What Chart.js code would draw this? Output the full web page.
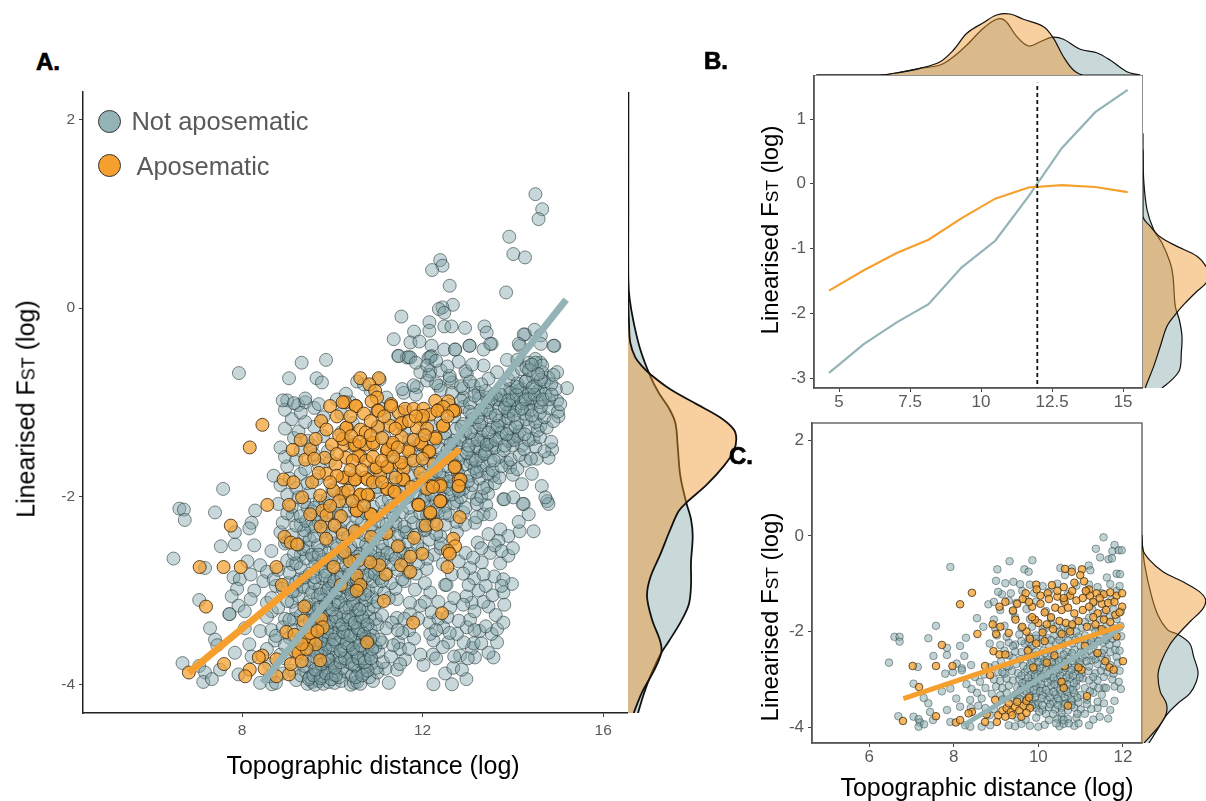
<!DOCTYPE html>
<html>
<head>
<meta charset="utf-8">
<title>Linearised FST vs topographic distance</title>
<script src="https://cdn.jsdelivr.net/npm/chart.js"></script>
<style>
  body { margin: 0; background: #fff; width: 1206px; height: 801px; overflow: hidden; position: relative; font-family: "Liberation Sans", sans-serif; }
  canvas { position: absolute; }
  .txt { position: absolute; white-space: nowrap; transform: translate(-50%, -50%); }
  .ytitle { transform: translate(-50%, -50%) rotate(-90deg); }
  .dot { position: absolute; width: 21px; height: 21px; border-radius: 50%; border: 1px solid #333; }
</style>
</head>
<body>
<script>
// panel A points
const greyA = [
[14.5,1.21],[14.65,1.05],[14.57,.945],[13.92,.758],[14.01,.574],[14.27,.538],[13.85,.166],[12.39,.51],[12.44,.45],[12.21,.404],[12.6,.237],[12.67,.035],[12.44,.007],[12.36,-.01],[12.48,-.05],[11.53,-.09],[12.15,-.15],[12.15,-.24],[12.48,-.195],[12.64,-.195],[12.94,-.21],[13.37,-.195],[13.42,-.26],[11.81,-.25],[11.36,-.33],[11.73,-.365],[11.93,-.355],[12.2,-.4],[12.48,-.44],[12.72,-.44],[13.04,-.4],[13.53,-.38],[13.35,-.44],[14.27,-.28],[14.48,-.23],[14.62,-.29],[14.16,-.4],[14.62,-.38],[14.92,-.4],[11.46,-.507],[11.65,-.525],[11.73,-.525],[12.13,-.53],[12.2,-.51],
[7.93,-.69],[9.32,-.58],[9.86,-.55],[9.04,-.745],[9.65,-.745],[9.77,-.79],[9.0,-.98],[9.24,-1.03],[9.4,-1.0],[15.2,-.85],[14.98,-.985],[15.01,-1.15],[14.9,-.4],[14.61,-.58],[14.98,-.68],[14.79,-.74],[14.61,-.86],[14.35,-.58],[14.5,-.54],[14.24,-.28],[14.13,-.38],[13.87,-.55],[13.65,-.68],[13.46,-.75],[13.35,-.61],[13.5,-.38],[13.04,-.4],[12.72,-.44],[12.17,-.52],[11.47,-.51],[11.69,-.52],[12.17,-.67],[11.87,-.84],[11.58,-.9],[12.35,-.825],[12.65,-.79],[12.98,-.7],[13.13,-.825],[12.91,-.95],[13.24,-.9],[13.43,-.95],[13.72,-.97],[13.94,-.86],[14.02,-.97],[14.24,-.985],[14.46,-.985],[14.2,-.86],[14.31,-1.07],[14.61,-1.25],[14.87,-1.5],[14.79,-1.59],[14.53,-1.6],[14.28,-1.62],[14.46,-1.39],[14.2,-1.46],[13.98,-1.37],[13.83,-1.2],[13.94,-1.09],[13.65,-1.29],[13.53,-1.46],[13.35,-1.41],[13.28,-1.52],[13.06,-1.64],[13.28,-1.73],[13.57,-1.78],[13.87,-1.64],[13.94,-1.69],[14.2,-1.87],[14.42,-1.76],[14.64,-1.89],[14.76,-2.05],[14.24,-2.08],[13.79,-2.03],[13.43,-1.89],[13.2,-2.03],[12.76,-2.05],[13.35,-2.19],
[6.61,-2.13],[6.71,-2.14],[6.73,-2.25],[7.4,-2.17],[7.58,-1.92],[8.29,-2.15],[8.21,-2.28],[8.16,-2.34],[7.84,-2.38],[7.84,-2.51],[7.53,-2.53],[8.27,-2.52],[6.48,-2.66],[7.18,-2.76],[8.12,-2.69],[8.4,-2.73],[7.81,-2.86],[7.95,-2.88],[8.19,-2.83],[8.47,-2.9],[7.89,-2.98],[8.27,-3.0],[7.05,-3.1],[7.77,-3.06],[8.19,-3.09],[8.55,-3.13],[7.72,-3.25],[7.72,-3.25],[7.92,-3.16],[8.06,-3.22],[8.66,-3.22],[7.29,-3.4],[7.4,-3.52],[8.06,-3.4],[8.4,-3.43],[8.73,-3.53],[7.84,-3.66],[7.45,-3.58],[8.16,-3.57],[6.68,-3.77],[7.05,-3.8],[7.18,-3.87],[7.14,-3.97],[7.33,-3.94],[7.51,-3.84],[7.92,-3.89],[8.4,-3.98],[8.66,-3.995],[8.21,-3.7],[8.55,-3.62],[8.62,-3.91],
[12.24,-3.995],[12.65,-3.995],[12.97,-3.94],[12.5,-3.88],[12.68,-3.82],[12.87,-3.84],[12.02,-3.79],[12.23,-3.68],[11.61,-3.73],[11.43,-3.84],[12.83,-3.69],[13.16,-3.71],[13.57,-3.71],[13.46,-3.66],[13.09,-3.61],[13.13,-3.56],[13.65,-3.55],[12.91,-3.55],[12.57,-3.55],[12.24,-3.53],[11.81,-3.51],[11.46,-3.55],[12.17,-3.46],[12.76,-3.46],[13.53,-3.46],[13.26,-3.43],[12.98,-3.39],[12.46,-3.39],[12.15,-3.34],[13.65,-3.41],[13.79,-3.34],[13.05,-3.31],[12.8,-3.32],[12.61,-3.18],[12.2,-3.23],[11.95,-3.16],[11.72,-3.13],[11.43,-3.09],[11.43,-3.29],[11.72,-3.25],[11.32,-3.34],[13.46,-3.17],[13.62,-3.26],[13.81,-3.15],[13.09,-3.13],[12.97,-3.06],[13.24,-3.0],[13.79,-3.02],[13.98,-2.93],[13.59,-2.85],[13.79,-2.88],[13.14,-2.87],[13.02,-2.94],[12.5,-2.94],[12.53,-2.94],[12.17,-3.02],[11.83,-2.99],[13.35,-2.83],[12.65,-2.83],[13.31,-2.7],[13.05,-2.76],[12.8,-2.69],[13.72,-2.71],[13.9,-2.63],[14.0,-2.55],[13.72,-2.35],[13.9,-2.42],[13.68,-2.47],[13.5,-2.6],[13.22,-2.49],[13.46,-2.4],[14.46,-2.37],[14.15,-2.37],[14.13,-2.27],[14.35,-2.19],[14.22,-2.08],[14.79,-2.08],[14.72,-2.01],[13.81,-2.03],[14.01,-2.01],[13.41,-2.09],[13.5,-2.19],[13.16,-2.28],[12.94,-2.3],[12.76,-2.38],[12.39,-2.42],[12.06,-2.35],[11.61,-2.38],[11.39,-2.31],[11.58,-2.6],[12.09,-2.77],[11.65,-2.72],
[11.5,-3.62],[11.7,-3.42],[11.9,-3.3],[12.05,-3.12],[12.35,-3.12],[12.35,-3.3],[12.55,-3.28],[12.7,-3.08],[12.9,-3.15],[13.15,-3.22],[13.35,-3.12],[13.55,-3.05],[13.4,-2.95],[12.9,-2.82],[12.45,-2.72],[12.25,-2.62],[12.4,-2.55],[12.6,-2.6],[12.95,-2.6],[13.12,-2.65],[13.3,-2.55],[13.6,-2.52],[13.75,-2.58],[12.05,-2.92],[11.6,-2.9],[11.85,-2.82],[12.3,-3.72],[12.7,-3.7],[13.0,-3.72],[12.45,-3.6],[11.95,-3.68],[11.7,-3.62],[11.55,-3.45],[13.3,-3.56],[13.4,-3.38],[12.6,-3.45],[12.3,-3.42],[13.75,-2.95],[13.15,-3.42],
[8.95,-3.3],[9.05,-3.5],[9.15,-3.3],[9.3,-3.62],[9.4,-3.74],[9.1,-3.12],[9.2,-3.0],[9.02,-2.92],[9.28,-2.88],[9.48,-2.97],[9.12,-2.72],[9.3,-2.62],[9.45,-2.54],[9.6,-2.65],[9.4,-2.42],[9.52,-2.32],[9.7,-2.28],[9.3,-2.3],[9.12,-2.2],[9.45,-2.12],[9.72,-2.05],[8.95,-2.5],[8.75,-2.95],[8.55,-2.8],[8.65,-3.42],[8.95,-3.72],[9.1,-3.85],[9.52,-3.62],[9.6,-3.3],[9.48,-3.18],
[8.75,-3.98],[9.2,-3.95],[9.45,-3.99],[9.55,-3.97],[9.62,-4.0],[9.71,-3.96],[9.8,-3.99],[9.92,-3.97],[10.05,-3.98],[10.2,-3.96],[10.41,-4.0],[10.48,-3.98],[10.55,-3.97],[10.62,-3.99],[10.9,-3.96],[11.25,-3.98],
[8.9,-3.88],[9.3,-3.9],[9.42,-3.86],[9.5,-3.92],[9.66,-3.87],[9.78,-3.91],[9.9,-3.85],[10.02,-3.89],[10.15,-3.92],[10.3,-3.86],[10.44,-3.9],[10.58,-3.84],[10.7,-3.88],[10.82,-3.92],[11.0,-3.87],[11.18,-3.83],
[8.6,-3.78],[9.38,-3.8],[9.55,-3.76],[9.7,-3.82],[9.84,-3.77],[10.0,-3.8],[10.1,-3.74],[10.22,-3.82],[10.36,-3.76],[10.5,-3.8],[10.61,-3.75],[10.75,-3.81],[10.88,-3.77],[10.98,-3.82],[11.12,-3.76],[11.5,-3.78],
[8.85,-3.68],[9.6,-3.7],[9.75,-3.66],[9.9,-3.72],[10.02,-3.67],[10.16,-3.71],[10.3,-3.65],[10.42,-3.7],[10.55,-3.66],[10.7,-3.72],[10.83,-3.68],[11.02,-3.65],[11.3,-3.7],
[8.95,-3.58],[9.2,-3.61],[9.5,-3.56],[9.68,-3.62],[9.82,-3.57],[9.95,-3.6],[10.1,-3.55],[10.25,-3.62],[10.38,-3.58],[10.52,-3.55],[10.68,-3.61],[10.8,-3.57],[10.95,-3.6],[11.1,-3.55],[11.35,-3.58],
[8.75,-3.48],[9.3,-3.5],[9.45,-3.46],[9.65,-3.52],[9.8,-3.47],[9.92,-3.51],[10.08,-3.45],[10.2,-3.5],[10.34,-3.47],[10.5,-3.52],[10.62,-3.46],[10.75,-3.5],[10.9,-3.48],[11.05,-3.52],
[8.9,-3.39],[9.15,-3.42],[9.35,-3.37],[9.55,-3.41],[9.72,-3.36],[9.88,-3.4],[10.0,-3.44],[10.14,-3.37],[10.28,-3.41],[10.42,-3.36],[10.58,-3.42],[10.72,-3.38],[10.85,-3.41],[11.0,-3.36],[11.2,-3.4],[11.45,-3.42],
[8.55,-3.28],[9.05,-3.31],[9.3,-3.26],[9.5,-3.32],[9.65,-3.27],[9.8,-3.3],[9.95,-3.25],[10.1,-3.33],[10.25,-3.28],[10.4,-3.31],[10.55,-3.26],[10.7,-3.32],[10.82,-3.28],[10.96,-3.3],[11.1,-3.26],[11.6,-3.3],
[8.8,-3.18],[9.2,-3.21],[9.42,-3.16],[9.6,-3.22],[9.75,-3.17],[9.9,-3.2],[10.05,-3.15],[10.2,-3.23],[10.38,-3.18],[10.52,-3.21],[10.66,-3.16],[10.8,-3.2],[10.92,-3.17],
[8.65,-3.08],[9.0,-3.11],[9.25,-3.06],[9.48,-3.12],[9.68,-3.07],[9.82,-3.1],[9.98,-3.05],[10.12,-3.13],[10.3,-3.08],[10.45,-3.11],[10.6,-3.06],[10.75,-3.1],[10.88,-3.07],[11.0,-3.12],[11.25,-3.08],
[8.9,-2.98],[9.12,-3.01],[9.35,-2.96],[9.55,-3.02],[9.72,-2.97],[9.88,-3.0],[10.02,-2.95],[10.18,-3.03],[10.35,-2.98],[10.5,-3.01],[10.65,-2.96],[10.8,-3.0],[10.98,-2.97],[11.15,-3.02],[11.4,-2.98],
[8.7,-2.88],[9.2,-2.91],[9.4,-2.86],[9.6,-2.92],[9.78,-2.87],[9.95,-2.9],[10.1,-2.85],[10.28,-2.93],[10.42,-2.88],[10.58,-2.91],[10.72,-2.86],[10.9,-2.9],[11.05,-2.87],[11.3,-2.92],[11.55,-2.88],
[8.8,-2.78],[9.05,-2.81],[9.3,-2.76],[9.5,-2.82],[9.68,-2.77],[9.85,-2.8],[10.0,-2.75],[10.2,-2.83],[10.35,-2.78],[10.5,-2.81],[10.68,-2.76],[10.85,-2.8],[11.02,-2.77],[11.2,-2.82],[11.45,-2.78],[11.7,-2.81],
[9.0,-2.68],[9.2,-2.71],[9.42,-2.66],[9.62,-2.72],[9.8,-2.67],[9.96,-2.7],[10.15,-2.65],[10.3,-2.73],[10.48,-2.68],[10.65,-2.71],[10.8,-2.66],[10.98,-2.7],[11.15,-2.67],[11.35,-2.72],[11.6,-2.68],[11.9,-2.71],[12.1,-2.66],
[8.65,-2.58],[9.15,-2.61],[9.35,-2.56],[9.55,-2.62],[9.75,-2.57],[9.92,-2.6],[10.1,-2.55],[10.28,-2.63],[10.45,-2.58],[10.62,-2.61],[10.78,-2.56],[10.95,-2.6],[11.12,-2.57],[11.3,-2.62],[11.5,-2.58],[11.75,-2.61],[12.0,-2.56],
[9.0,-2.48],[9.25,-2.51],[9.5,-2.46],[9.68,-2.52],[9.88,-2.47],[10.05,-2.5],[10.22,-2.45],[10.4,-2.53],[10.58,-2.48],[10.75,-2.51],[10.92,-2.46],[11.1,-2.5],[11.28,-2.47],[11.48,-2.52],[11.68,-2.48],[11.88,-2.51],[12.15,-2.46],[12.4,-2.5],
[8.85,-2.38],[9.1,-2.41],[9.38,-2.36],[9.6,-2.42],[9.8,-2.37],[10.0,-2.4],[10.18,-2.35],[10.35,-2.43],[10.55,-2.38],[10.72,-2.41],[10.9,-2.36],[11.08,-2.4],[11.25,-2.37],[11.45,-2.42],[11.65,-2.38],[11.85,-2.41],[12.05,-2.36],[12.3,-2.4],
[8.9,-2.28],[9.2,-2.31],[9.42,-2.26],[9.62,-2.32],[9.85,-2.27],[10.05,-2.3],[10.25,-2.25],[10.45,-2.33],[10.65,-2.28],[10.85,-2.31],[11.02,-2.26],[11.2,-2.3],[11.4,-2.27],[11.6,-2.32],[11.8,-2.28],[12.0,-2.31],[12.25,-2.26],[12.5,-2.3],[12.75,-2.27],
[9.0,-2.18],[9.3,-2.21],[9.55,-2.16],[9.75,-2.22],[9.95,-2.17],[10.15,-2.2],[10.35,-2.15],[10.55,-2.23],[10.75,-2.18],[10.95,-2.21],[11.15,-2.16],[11.35,-2.2],[11.55,-2.17],[11.75,-2.22],[11.95,-2.18],[12.15,-2.21],[12.35,-2.16],[12.6,-2.2],[12.9,-2.17],[13.2,-2.22],
[8.8,-2.08],[9.1,-2.11],[9.38,-2.06],[9.6,-2.12],[9.85,-2.07],[10.1,-2.1],[10.3,-2.05],[10.5,-2.13],[10.7,-2.08],[10.9,-2.11],[11.1,-2.06],[11.3,-2.1],[11.5,-2.07],[11.7,-2.12],[11.9,-2.08],[12.1,-2.11],[12.3,-2.06],[12.5,-2.1],[12.7,-2.07],[12.95,-2.12],[13.2,-2.08],
[9.0,-1.98],[9.25,-2.01],[9.5,-1.96],[9.9,-2.02],[10.2,-1.97],[10.6,-2.0],[10.95,-1.95],[11.25,-2.03],[11.45,-1.98],[11.65,-2.01],[11.85,-1.96],[12.05,-2.0],[12.25,-1.97],[12.45,-2.02],[12.65,-1.98],[12.85,-2.01],[13.05,-1.96],[13.3,-2.0],[13.45,-1.97],
[8.85,-1.88],[9.2,-1.91],[9.45,-1.86],[10.0,-1.92],[10.4,-1.87],[11.0,-1.9],[11.35,-1.85],[11.6,-1.93],[11.85,-1.88],[12.05,-1.91],[12.3,-1.86],[12.5,-1.9],[12.7,-1.87],[12.9,-1.92],[13.1,-1.88],[13.35,-1.91],[13.6,-1.86],
[8.7,-1.78],[9.05,-1.81],[9.3,-1.76],[9.65,-1.82],[10.5,-1.77],[10.9,-1.8],[11.3,-1.75],[11.55,-1.83],[11.8,-1.78],[12.0,-1.81],[12.2,-1.76],[12.45,-1.8],[12.65,-1.77],[12.85,-1.82],[13.05,-1.78],[13.25,-1.81],[13.45,-1.76],[13.7,-1.8],[14.0,-1.77],
[9.0,-1.68],[9.4,-1.71],[9.7,-1.66],[11.05,-1.72],[11.6,-1.67],[11.9,-1.7],[12.1,-1.65],[12.3,-1.73],[12.55,-1.68],[12.75,-1.71],[12.95,-1.66],[13.15,-1.7],[13.35,-1.67],[13.55,-1.72],[13.75,-1.68],[14.1,-1.71],
[8.95,-1.58],[9.2,-1.61],[9.6,-1.56],[9.95,-1.62],[11.3,-1.57],[11.75,-1.6],[12.0,-1.55],[12.25,-1.63],[12.45,-1.58],[12.65,-1.61],[12.85,-1.56],[13.1,-1.6],[13.3,-1.57],[13.5,-1.62],[13.7,-1.58],[13.95,-1.61],[14.15,-1.56],[14.4,-1.6],
[8.85,-1.48],[9.3,-1.51],[9.55,-1.46],[9.9,-1.52],[10.6,-1.47],[11.4,-1.5],[11.9,-1.45],[12.15,-1.53],[12.35,-1.48],[12.55,-1.51],[12.78,-1.46],[13.0,-1.5],[13.2,-1.47],[13.4,-1.52],[13.6,-1.48],[13.8,-1.51],[14.0,-1.46],[14.25,-1.5],[14.5,-1.47],[14.7,-1.52],
[9.15,-1.38],[9.45,-1.41],[9.8,-1.36],[10.4,-1.42],[11.15,-1.37],[11.7,-1.4],[12.0,-1.35],[12.25,-1.43],[12.5,-1.38],[12.7,-1.41],[12.9,-1.36],[13.1,-1.4],[13.3,-1.37],[13.5,-1.42],[13.7,-1.38],[13.9,-1.41],[14.1,-1.36],[14.35,-1.4],[14.6,-1.37],[14.85,-1.42],
[8.95,-1.28],[9.25,-1.31],[9.6,-1.26],[10.2,-1.32],[11.0,-1.27],[11.6,-1.3],[12.2,-1.25],[12.5,-1.33],[12.75,-1.28],[12.95,-1.31],[13.15,-1.26],[13.35,-1.3],[13.55,-1.27],[13.75,-1.32],[13.95,-1.28],[14.15,-1.31],[14.35,-1.26],[14.55,-1.3],[14.75,-1.27],
[9.1,-1.18],[9.4,-1.21],[9.8,-1.16],[10.45,-1.22],[11.25,-1.17],[12.4,-1.2],[12.7,-1.15],[12.9,-1.23],[13.1,-1.18],[13.3,-1.21],[13.5,-1.16],[13.7,-1.2],[13.9,-1.17],[14.1,-1.22],[14.3,-1.18],[14.5,-1.21],[14.7,-1.16],[14.9,-1.2],
[8.95,-1.08],[9.3,-1.11],[9.6,-1.06],[10.2,-1.12],[11.1,-1.07],[11.6,-1.1],[12.9,-1.05],[13.1,-1.13],[13.3,-1.08],[13.5,-1.11],[13.7,-1.06],[13.9,-1.1],[14.05,-1.07],[14.25,-1.12],[14.4,-1.08],[14.6,-1.11],[14.8,-1.06],[15.0,-1.1],
[8.9,-.98],[9.15,-1.01],[9.4,-.96],[9.7,-1.02],[10.1,-.97],[10.4,-1.0],[11.2,-.95],[12.6,-1.03],[12.85,-.98],[13.05,-1.01],[13.25,-.96],[13.45,-1.0],[13.65,-.97],[13.85,-1.02],[14.0,-.98],[14.2,-1.01],[14.4,-.96],[14.6,-1.0],[14.8,-.97],[15.05,-1.02],
[10.3,-.91],[10.85,-.88],[11.55,-.86],[11.85,-.92],[12.4,-.87],[12.65,-.9],[12.9,-.85],[13.15,-.93],[13.4,-.88],[13.6,-.91],[13.8,-.86],[13.95,-.9],[14.15,-.87],[14.35,-.92],[14.55,-.88],[14.72,-.91],[14.95,-.86],
[10.55,-.78],[10.7,-.81],[11.05,-.76],[11.8,-.82],[12.1,-.77],[12.3,-.8],[12.6,-.75],[12.85,-.83],[13.05,-.78],[13.3,-.81],[13.9,-.76],[14.1,-.8],[14.3,-.77],[14.5,-.82],[14.7,-.78],[14.85,-.81],
[11.95,-.68],[12.15,-.71],[12.4,-.66],[12.6,-.72],[12.95,-.67],[14.0,-.7],[14.2,-.65],[14.45,-.73],[14.65,-.68],[14.9,-.71],
[11.85,-.58],[12.1,-.61],[12.3,-.56],[12.55,-.62],[12.8,-.57],[13.1,-.6],[14.1,-.55],[14.3,-.63],[14.5,-.58],[14.65,-.61],
// the darkest clumps, lower middle and upper right
[9.48,-3.94],[9.58,-3.9],[9.74,-3.93],[9.86,-3.88],[9.98,-3.94],[10.08,-3.9],[10.52,-3.92],[10.66,-3.9],[10.78,-3.85],[9.62,-3.84],[9.76,-3.78],[9.92,-3.74],[10.06,-3.82],[10.18,-3.76],[10.28,-3.72],[10.44,-3.78],[10.58,-3.72],[10.72,-3.76],[10.86,-3.72],[9.66,-3.66],[9.84,-3.62],[10.0,-3.58],[10.18,-3.64],[10.32,-3.56],[10.46,-3.62],[10.62,-3.58],[10.76,-3.54],[10.88,-3.62],[9.58,-3.5],[9.74,-3.54],[9.88,-3.44],[10.04,-3.52],[10.24,-3.44],[10.4,-3.48],[10.56,-3.4],[10.7,-3.46],[10.84,-3.52],[9.6,-3.36],[9.78,-3.28],[9.92,-3.34],[10.08,-3.28],[10.22,-3.36],[10.36,-3.28],[10.5,-3.34],[10.66,-3.28],[10.78,-3.36],[9.7,-3.18],[9.86,-3.14],[10.0,-3.2],[10.14,-3.12],[10.3,-3.18],[10.46,-3.14],[10.6,-3.2],[9.74,-3.04],[9.92,-2.98],[10.08,-3.02],[10.26,-2.96],[10.42,-3.04],[10.58,-2.98],[10.72,-3.04],[9.62,-2.86],[9.84,-2.84],[10.04,-2.9],[10.2,-2.86],[10.38,-2.82],[10.54,-2.88],[10.78,-2.84],[10.94,-2.82],[11.1,-2.9],[9.7,-2.62],[9.98,-2.66],[10.22,-2.6],[10.56,-2.64],[10.84,-2.62],[11.04,-2.66],[11.22,-2.6],[11.4,-2.66],
[12.1,-2.2],[12.3,-2.14],[12.5,-2.18],[12.02,-2.04],[12.2,-1.98],[12.4,-2.05],[12.6,-1.92],[12.8,-1.94],[12.2,-1.82],[12.36,-1.75],[12.6,-1.84],[12.78,-1.75],[13.0,-1.84],[13.2,-1.74],[12.42,-1.62],[12.6,-1.56],[12.78,-1.62],[12.98,-1.54],[13.18,-1.62],[13.38,-1.55],[13.58,-1.62],[12.62,-1.44],[12.82,-1.4],[13.02,-1.46],[13.22,-1.4],[13.42,-1.45],[13.62,-1.4],[13.82,-1.46],[14.02,-1.4],[12.86,-1.26],[13.06,-1.32],[13.26,-1.24],[13.46,-1.32],[13.66,-1.25],[13.86,-1.34],[14.06,-1.26],[14.26,-1.34],[13.04,-1.1],[13.22,-1.16],[13.42,-1.08],[13.62,-1.14],[13.82,-1.06],[14.02,-1.14],[14.2,-1.07],[14.42,-1.14],[14.62,-1.05],[13.52,-.96],[13.72,-.92],[13.9,-.98],[14.08,-.92],[14.28,-.97],[14.48,-.92],[14.66,-.97],[14.86,-.92],[14.1,-.84],[14.28,-.78],[14.44,-.84],[14.62,-.76],[14.36,-.66],[14.56,-.7],[14.42,-.6]
];
const orangeA = [
[8.45,-1.24],[8.17,-1.48],[9.12,-1.505],[9.3,-1.4],[9.4,-1.61],[9.51,-1.5],[8.92,-1.82],[9.14,-1.85],[9.55,-1.85],[9.33,-2.01],[8.56,-2.09],[9.04,-2.09],[7.75,-2.31],[8.94,-2.43],[9.08,-2.49],[9.22,-2.51],[9.51,-2.19],[9.73,-1.99],[9.78,-2.15],[9.87,-2.2],[10.19,-2.21],[10.05,-2.31],[9.74,-2.32],[9.86,-2.45],[10.54,-2.15],[10.86,-2.19],[10.23,-2.4],[10.5,-2.37],[10.86,-2.43],[11.2,-2.39],[11.45,-2.53],[11.81,-2.44],[11.91,-2.09],[12.17,-2.18],[12.07,-2.31],[12.31,-2.3],[12.4,-2.05],[12.82,-2.22],[12.68,-2.45],[12.72,-2.53],[12.56,-2.58],[12.6,-2.61],[12.55,-2.75],[11.99,-2.61],[11.73,-2.64],[11.52,-2.73],[11.73,-2.8],[11.18,-2.83],[11.04,-2.73],[10.84,-2.7],[10.58,-2.68],[10.39,-2.69],[10.03,-2.75],[10.27,-2.59],[8.76,-2.75],[8.88,-2.94],[7.97,-2.75],[7.59,-2.75],[7.06,-2.75],[7.2,-3.17],[9.38,-3.17],[10.54,-2.84],[10.62,-2.94],[10.54,-3.0],[10.19,-2.94],[11.14,-3.11],[12.43,-3.24],[11.79,-3.34],[10.77,-3.55],[9.75,-3.3],[9.79,-3.39],[9.36,-3.32],[8.98,-3.44],[9.16,-3.64],[9.25,-3.66],[9.48,-3.52],[9.63,-3.57],[9.43,-3.62],[9.16,-3.47],[9.32,-3.57],[9.51,-3.45],[9.67,-3.43],[9.73,-3.74],[8.45,-3.69],[8.37,-3.71],[7.6,-3.78],[6.82,-3.87],[8.17,-3.84],[8.07,-3.91],[8.5,-3.83],[8.76,-3.73],[9.04,-3.89],[8.76,-3.91],[9.08,-3.78],[9.32,-3.75],
[11.03,-.744],[10.62,-.744],[10.82,-.81],[10.95,-.88],[10.99,-.95],[10.28,-1.0],[10.52,-1.04],[10.87,-.99],[11.0,-1.09],[11.3,-1.02],[11.47,-1.11],[11.61,-1.07],[11.8,-1.07],[12.02,-1.07],[12.28,-.985],[12.57,-.99],[12.72,-1.09],[12.35,-1.08],[12.46,-1.05],[12.17,-1.13],[11.98,-1.18],[12.46,-1.25],[11.87,-1.27],[11.54,-1.23],[11.28,-1.25],[11.01,-1.26],[10.62,-1.29],[10.32,-1.27],[12.28,-1.37],[11.98,-1.45],[11.69,-1.5],[11.54,-1.37],[11.32,-1.45],[11.21,-1.52],[10.91,-1.45],[10.73,-1.45],[10.48,-1.46],[10.25,-1.45],[10.62,-1.57],[12.13,-1.52],[10.95,-1.69],[11.21,-1.68],[11.49,-1.66],[11.58,-1.71],[11.58,-1.82],[11.95,-1.75],[12.24,-1.66],[12.72,-1.68],[12.8,-1.82],[12.8,-1.89],[12.39,-1.87],[12.2,-1.89],[12.1,-1.92],[12.39,-2.05],[11.91,-2.09],[12.17,-2.17],[11.21,-1.92],[11.36,-1.95],[10.8,-1.99],[10.62,-1.99],[10.54,-2.15],[10.85,-2.19],[10.25,-1.96],[10.51,-1.82],[10.28,-1.8],[11.06,-1.78],[10.73,-1.8],
[9.95,-1.04],[10.23,-1.0],[10.52,-1.04],[9.75,-1.2],[9.63,-1.39],[9.87,-1.29],[10.31,-1.27],[10.74,-1.32],[9.99,-1.45],[10.23,-1.39],[9.83,-1.59],[10.31,-1.59],[10.07,-1.66],[9.87,-1.76],[10.23,-1.8],[10.5,-1.82],[10.78,-1.82],[10.03,-1.94],[10.35,-1.94],[10.62,-1.98],[10.78,-1.98],[11.22,-1.92],[11.38,-1.95],[10.98,-1.69],[11.22,-1.69],[11.53,-1.64],[11.57,-1.82],[11.22,-1.5],[11.34,-1.43],[11.69,-1.52],[11.97,-1.43],[12.29,-1.385],[12.15,-1.52],[10.58,-1.57],[10.9,-1.43],[10.5,-1.45],[11.02,-1.09],[11.3,-1.04],[11.53,-1.22],[12.33,-1.09],[12.01,-1.145],[12.68,-1.09],[12.45,-1.25],[12.71,-1.69],[12.84,-1.82],[12.8,-1.89],[12.4,-1.89],[12.23,-1.9],
[10.1,-1.15],[10.4,-1.15],[10.7,-1.12],[10.85,-1.2],[11.15,-1.15],[11.4,-1.28],[11.7,-1.2],[11.85,-1.15],[12.1,-1.28],[12.55,-1.15],[10.15,-1.35],[10.42,-1.36],[10.6,-1.42],[10.85,-1.35],[11.1,-1.38],[11.45,-1.48],[11.8,-1.4],[12.05,-1.35],[10.1,-1.55],[10.45,-1.62],[10.75,-1.62],[10.9,-1.58],[11.1,-1.62],[11.35,-1.58],[11.8,-1.62],[12.0,-1.6],[10.1,-1.78],[10.4,-1.72],[10.65,-1.72],[10.9,-1.85],[11.1,-1.85],[11.4,-1.8],[11.75,-1.9],[9.95,-1.85],[10.15,-2.05],[10.45,-2.05],[10.7,-2.1],[9.95,-2.1],[9.6,-1.6],[9.7,-1.75]
];
const fitAGreyX = [8.45, 15.18];
const fitAGreyY = [-3.98, 0.09];
const fitAOrangeX = [6.82, 12.82];
const fitAOrangeY = [-3.87, -1.5];

// marginal densities of panel A (value on the Fst axis, height of the curve)
const densAGreyY = [2.3,1,.308,.095,-.15,-.436,-.72,-.897,-1.056,-1.215,-1.463,-1.78,-2.065,-2.24,-2.42,-2.7,-2.95,-3.15,-3.34,-3.54,-3.68,-3.91,-4.1,-4.3];
const densAGrey = [.003,.003,.003,.017,.057,.123,.223,.307,.407,.473,.497,.523,.583,.63,.647,.63,.63,.607,.523,.407,.323,.223,.157,.1];
const densAOrangeY = [2.3,.13,-.15,-.365,-.52,-.613,-.7,-.86,-1.02,-1.16,-1.286,-1.39,-1.516,-1.676,-1.87,-2.065,-2.154,-2.35,-2.614,-2.86,-3.06,-3.305,-3.54,-3.66,-3.855,-4.08,-4.3];
const densAOrange = [.002,.002,.01,.023,.073,.14,.223,.423,.69,.923,1.057,1.083,1.057,.957,.79,.583,.507,.423,.323,.223,.19,.24,.323,.333,.257,.14,.057];

// panel B
const lineBX = [4.65,5.86,7.03,8.15,9.32,10.5,11.67,12.84,14.02,15.16];
const lineBGrey = [-2.92,-2.48,-2.14,-1.86,-1.29,-.88,-.195,.55,1.106,1.45];
const lineBOrange = [-1.65,-1.34,-1.07,-.864,-.53,-.23,-.057,-.02,-.05,-.13];
const cutX = [11.98, 11.98];
const cutY = [-3.2, 1.56];
const densBTopGreyX = [4.2,6.44,7.15,7.85,8.56,9.03,9.5,10.08,10.55,10.85,11.26,11.67,12.08,12.49,12.9,13.49,14.07,14.54,15.13,15.6];
const densBTopGrey = [0,0,.027,.067,.1,.183,.3,.467,.557,.543,.383,.29,.333,.377,.357,.257,.223,.15,.033,0];
const densBTopOrangeX = [4.2,6.44,7.15,7.85,8.56,9.03,9.5,10.08,10.55,11.02,11.49,12.2,12.55,12.9,13.25,13.6,15.6];
const densBTopOrange = [0,0,.027,.067,.133,.25,.417,.523,.6,.61,.557,.483,.367,.183,.05,0,0];
const densBSideGreyY = [.525,.06,-.4,-.71,-.916,-1.224,-1.43,-1.893,-2.1,-2.356,-2.613,-2.87,-3.025,-3.153];
const densBSideGrey = [0,.007,.04,.107,.19,.273,.3,.323,.363,.39,.383,.367,.29,.19];
const densBSideOrangeY = [.78,-.504,-.658,-.823,-.967,-1.12,-1.276,-1.4,-1.533,-1.66,-1.867,-2.02,-2.2,-2.51,-2.82,-3.08,-3.153];
const densBSideOrange = [0,0,.073,.173,.34,.54,.63,.66,.63,.54,.407,.323,.24,.173,.107,.04,.023];

// panel C points
const greyC = [
[11.54,-.03],[11.36,-.27],[11.8,-.19],[11.75,-.32],[11.9,-.3],[11.97,-.3],[11.46,-.45],[11.66,-.49],[11.74,-.47],[9.86,-.51],[9.32,-.53],[7.92,-.65],[9.03,-.7],[9.67,-.7],[9.77,-.75],[10.52,-.67],[10.63,-.82],[10.79,-.68],[11.19,-.62],[11.23,-.72],[11.85,-.79],[11.93,-.8],[11.62,-.87],[9.0,-.94],[9.22,-.99],[9.41,-.96],[9.57,-1.01],[9.14,-1.22],[8.82,-1.43],[7.58,-1.88],[6.6,-2.11],[6.72,-2.11],[6.72,-2.21],[7.4,-2.14],[8.29,-2.13],[8.15,-2.3],[7.84,-2.34],[7.84,-2.49],[7.52,-2.51],[8.25,-2.51],[6.47,-2.65],[7.15,-2.74],[8.07,-2.67],[8.41,-2.7],[7.8,-2.88],[7.98,-2.85],[8.19,-2.77],[8.19,-2.81],[7.05,-3.09],[7.72,-3.25],[7.92,-3.19],[8.06,-3.4],[7.29,-3.39],[7.4,-3.5],[7.44,-3.68],[7.84,-3.64],[8.15,-3.57],[8.39,-3.43],[8.66,-3.4],[6.69,-3.77],[7.05,-3.78],[7.17,-3.83],[7.2,-3.9],[7.17,-3.99],[7.3,-3.94],[7.51,-3.85],[7.92,-3.89],[8.27,-3.96],[8.39,-3.99],[8.66,-3.99],[8.86,-3.96],[8.3,-3.1],[8.42,-3.2],[8.55,-3.28],[8.62,-3.05],[8.75,-3.18],[8.5,-2.95],[8.72,-2.9],[8.85,-2.75],[8.4,-3.6],[8.58,-3.55],[8.75,-3.6],[8.85,-3.75],
[9.3,-3.96],[9.45,-3.98],[9.6,-3.93],[9.8,-3.97],[10.0,-3.99],[10.15,-3.95],[10.5,-3.98],[10.6,-3.93],[10.85,-3.97],[10.95,-3.92],[11.2,-3.96],
[9.5,-3.8],[9.7,-3.84],[10.45,-3.82],[10.55,-3.78],[10.7,-3.83],[10.9,-3.8],[11.3,-3.84],[11.45,-3.78],[11.65,-3.82],
[8.95,-3.62],[9.95,-3.6],[10.1,-3.64],[10.25,-3.58],[10.4,-3.63],[10.55,-3.6],[10.7,-3.65],[10.85,-3.59],[11.0,-3.63],[11.4,-3.6],[11.7,-3.64],
[9.85,-3.45],[10.0,-3.49],[10.2,-3.43],[10.35,-3.47],[10.5,-3.44],[10.65,-3.5],[10.8,-3.45],[10.95,-3.48],[11.15,-3.43],[11.4,-3.47],[11.8,-3.45],
[8.9,-3.3],[9.1,-3.33],[9.25,-3.28],[9.45,-3.32],[9.65,-3.3],[9.8,-3.35],[9.95,-3.29],[10.1,-3.33],[10.25,-3.28],[10.4,-3.32],[10.55,-3.3],[10.7,-3.35],[10.85,-3.29],[11.0,-3.33],[11.3,-3.28],[11.5,-3.32],
[9.0,-3.15],[9.15,-3.18],[9.3,-3.13],[9.5,-3.17],[9.65,-3.15],[9.8,-3.2],[9.95,-3.14],[10.1,-3.18],[10.3,-3.13],[10.45,-3.17],[10.6,-3.15],[10.75,-3.2],[10.9,-3.14],[11.1,-3.18],[11.3,-3.13],[11.55,-3.17],[11.8,-3.15],[11.95,-3.2],
[8.95,-3.0],[9.1,-3.03],[9.25,-2.98],[9.4,-3.02],[9.55,-3.0],[9.7,-3.05],[9.85,-2.99],[10.0,-3.03],[10.15,-2.98],[10.3,-3.02],[10.45,-3.0],[10.6,-3.05],[10.75,-2.99],[10.9,-3.03],[11.05,-2.98],[11.2,-3.02],[11.75,-3.0],[11.9,-3.05],
[9.05,-2.85],[9.2,-2.88],[9.38,-2.83],[9.52,-2.87],[9.68,-2.85],[9.82,-2.9],[9.98,-2.84],[10.12,-2.88],[10.28,-2.83],[10.42,-2.87],[10.58,-2.85],[10.72,-2.9],[10.88,-2.84],[11.02,-2.88],[11.18,-2.83],[11.35,-2.87],[11.62,-2.85],
[8.98,-2.7],[9.3,-2.73],[9.48,-2.68],[9.65,-2.72],[9.8,-2.7],[9.95,-2.75],[10.1,-2.69],[10.25,-2.73],[10.4,-2.68],[10.55,-2.72],[10.7,-2.7],[10.85,-2.75],[11.0,-2.69],[11.2,-2.73],[11.4,-2.68],[11.55,-2.72],[11.7,-2.7],
[9.4,-2.55],[9.58,-2.58],[9.75,-2.53],[9.9,-2.57],[10.05,-2.55],[10.2,-2.6],[10.38,-2.54],[10.55,-2.58],[10.72,-2.53],[10.88,-2.57],[11.05,-2.55],[11.25,-2.6],[11.48,-2.54],[11.62,-2.58],[11.85,-2.53],
[9.2,-2.4],[9.6,-2.43],[9.78,-2.38],[9.95,-2.42],[10.12,-2.4],[10.3,-2.45],[10.5,-2.39],[10.68,-2.43],[10.85,-2.38],[11.02,-2.42],[11.2,-2.4],[11.38,-2.45],[11.55,-2.39],[11.7,-2.43],[11.82,-2.38],
[8.85,-2.25],[9.1,-2.28],[9.3,-2.23],[9.45,-2.27],[9.68,-2.25],[9.85,-2.3],[10.05,-2.24],[10.25,-2.28],[10.42,-2.23],[10.6,-2.27],[10.8,-2.25],[11.0,-2.3],[11.15,-2.24],[11.32,-2.28],[11.52,-2.23],[11.68,-2.27],[11.85,-2.25],
[9.02,-2.08],[9.25,-2.11],[9.55,-2.06],[9.78,-2.1],[9.95,-2.08],[10.2,-2.13],[10.38,-2.07],[10.58,-2.11],[10.75,-2.06],[10.95,-2.1],[11.1,-2.08],[11.3,-2.13],[11.45,-2.07],[11.65,-2.11],[11.8,-2.06],[11.96,-2.1],
[8.7,-1.9],[8.98,-1.93],[9.2,-1.88],[9.6,-1.92],[9.85,-1.9],[10.15,-1.95],[10.42,-1.89],[10.6,-1.93],[10.8,-1.88],[11.02,-1.92],[11.25,-1.9],[11.42,-1.95],[11.6,-1.89],[11.78,-1.93],[11.94,-1.88],
[8.55,-1.72],[8.95,-1.75],[9.45,-1.7],[9.8,-1.74],[10.3,-1.72],[10.9,-1.77],[11.2,-1.71],[11.45,-1.75],[11.68,-1.7],[11.85,-1.74],
[9.1,-1.55],[9.4,-1.58],[9.72,-1.53],[10.18,-1.57],[11.28,-1.55],[11.55,-1.6],[11.78,-1.54],[11.95,-1.58],
[8.95,-1.38],[9.3,-1.35],[9.48,-1.4],[9.7,-1.33],[9.95,-1.37],[10.6,-1.35],[11.3,-1.4],[11.72,-1.34],
[9.05,-1.17],[9.35,-1.2],[9.62,-1.15],[9.9,-1.19],[10.25,-1.17],[10.7,-1.22],[11.15,-1.16],[11.5,-1.2],[11.85,-1.15],
[9.8,-1.02],[10.1,-1.05],[10.45,-1.0],[10.9,-1.04],[11.2,-1.02],[11.4,-1.07],[11.7,-1.01],[11.92,-1.05],
// the dark middle
[9.5,-3.42],[9.72,-3.42],[9.92,-3.38],[10.08,-3.4],[10.28,-3.38],[10.46,-3.4],[10.62,-3.38],[10.78,-3.42],[10.92,-3.38],[9.58,-3.22],[9.72,-3.26],[9.9,-3.22],[10.04,-3.24],[10.18,-3.22],[10.36,-3.26],[10.52,-3.22],[10.68,-3.26],[10.82,-3.22],[9.62,-3.08],[9.78,-3.1],[9.92,-3.06],[10.06,-3.1],[10.22,-3.06],[10.38,-3.1],[10.54,-3.06],[10.68,-3.1],[10.84,-3.08],[9.6,-2.92],[9.76,-2.96],[9.92,-2.92],[10.06,-2.94],[10.22,-2.92],[10.36,-2.96],[10.52,-2.92],[10.66,-2.96],[10.82,-2.92],[10.98,-2.96],[9.74,-2.78],[9.9,-2.8],[10.04,-2.76],[10.18,-2.8],[10.34,-2.76],[10.48,-2.8],[10.64,-2.76],[10.78,-2.8],[10.94,-2.76],[9.84,-2.62],[10.0,-2.64],[10.14,-2.62],[10.32,-2.64],[10.48,-2.62],[10.64,-2.64],[10.8,-2.62],[10.98,-2.64],[11.14,-2.62],[9.92,-3.52],[10.1,-3.54],[10.28,-3.52],[10.46,-3.54],[10.62,-3.52],[10.78,-3.54],[10.92,-3.72],[10.55,-3.7],[10.35,-3.72],[10.6,-3.85],[10.72,-3.92],
[9.15,-3.42],[9.35,-3.4],[9.55,-3.4],[9.7,-3.5],[9.85,-3.55],[10.02,-3.68],[10.18,-3.72],[9.95,-3.8],[10.25,-3.85],[10.42,-3.92],[11.1,-3.72],[11.25,-3.62],[11.55,-3.5],[11.15,-3.52],[11.6,-3.18],[11.22,-3.25],[11.42,-3.18],[11.4,-3.02],[11.55,-2.95],[11.3,-2.95],[11.48,-2.82],[11.78,-2.88],[11.92,-2.82],[11.88,-2.65],[11.35,-2.58],[9.15,-2.85],[9.25,-2.72],[9.12,-2.62],[9.3,-2.5],[9.45,-2.42],[9.4,-2.3],[9.6,-2.2],[9.78,-2.22],[9.95,-2.15],[10.1,-2.12],[10.3,-2.18],[10.5,-2.18],[10.7,-2.18],[10.88,-2.18],[11.1,-2.18],[11.25,-2.2],[11.42,-2.2],[11.6,-2.18],[11.75,-2.15],[11.92,-2.4],[10.1,-1.95],[10.3,-1.85],[10.5,-2.0],[10.7,-1.95],[10.9,-2.0],[11.1,-1.8],[11.35,-2.0],[11.55,-1.98],[11.72,-2.0],[9.95,-2.5],[10.15,-2.45],[10.35,-2.42],[10.6,-2.48],[10.8,-2.45],[11.1,-2.48],[11.3,-2.5],[11.5,-2.45]
];
const orangeC = [
[8.43,-1.19],[8.15,-1.43],[8.56,-2.05],[7.72,-2.28],[7.03,-2.72],[7.58,-2.72],[7.97,-2.72],[7.18,-3.16],[7.58,-3.77],[6.8,-3.87],[8.05,-3.9],[8.15,-3.85],[8.43,-3.68],[8.35,-3.71],[8.74,-3.89],[9.02,-3.89],[8.78,-3.73],[9.05,-3.75],[8.74,-2.72],[8.94,-2.41],[9.08,-2.48],[9.22,-2.48],[8.86,-2.91],[8.98,-3.43],[9.0,-2.05],[8.92,-1.85],[9.1,-1.9],[9.3,-2.03],[9.46,-1.75],[9.22,-1.38],[9.08,-1.48],[9.4,-1.56],
[9.15,-3.65],[9.25,-3.6],[9.35,-3.68],[9.45,-3.58],[9.55,-3.65],[9.65,-3.55],[9.72,-3.45],[9.8,-3.6],[9.78,-3.38],[9.5,-3.47],[9.38,-3.75],[9.22,-3.78],[9.6,-3.78],[9.72,-3.7],[9.3,-3.5],
[10.7,-3.55],[11.15,-3.35],[10.55,-3.05],[10.6,-3.18],[9.88,-2.75],[10.2,-2.65],[10.62,-2.72],[11.02,-2.8],[11.58,-2.62],[11.68,-2.75],[11.78,-2.8],[12.0,-2.62],[10.95,-2.75],[10.38,-2.5],[10.15,-2.2],[9.95,-2.25],[9.75,-2.4],[11.1,-2.3],[11.4,-2.45],[11.85,-2.1],
[11.03,-.7],[10.79,-.75],[10.63,-.69],[10.99,-.82],[11.08,-.95],[10.85,-.98],[11.2,-1.12],[10.6,-1.07],[10.32,-1.03],[9.95,-1.02],[9.96,-1.12],[9.7,-1.2],[9.63,-1.32],[9.5,-1.42],[9.85,-1.48],[10.05,-1.42],[10.22,-1.2],[10.45,-1.27],[10.62,-1.38],[10.75,-1.25],[10.9,-1.35],[11.05,-1.3],[11.22,-1.25],[11.38,-1.2],[11.55,-1.22],[11.7,-1.18],[11.85,-1.25],[11.98,-1.2],[11.3,-1.38],[11.5,-1.42],[11.65,-1.4],[11.8,-1.38],[11.98,-1.48],[10.4,-1.5],[10.55,-1.55],[10.7,-1.5],[10.85,-1.62],[11.05,-1.55],[11.2,-1.48],[11.4,-1.62],[11.55,-1.75],[11.7,-1.8],[11.82,-1.65],[10.15,-1.6],[10.3,-1.7],[10.5,-1.78],[10.65,-1.82],[10.8,-1.85],[10.2,-1.85],[10.0,-1.82],[9.92,-1.75],[10.35,-1.95],[10.1,-2.02],[10.55,-2.05],[10.75,-2.0],[11.15,-1.9],[11.35,-1.85],[11.5,-1.95],[9.72,-2.0],[9.8,-2.15],[9.85,-1.7],[9.62,-1.9],
[10.45,-1.15],[10.6,-1.3],[10.8,-1.15],[11.12,-1.15],[11.45,-1.3],[11.6,-1.55],[11.3,-1.7],[10.95,-1.78],[10.25,-1.32],[9.78,-1.38],[11.92,-1.6],[10.05,-1.25]
];
const fitCGreyX = [8.23, 11.97];
const fitCGreyY = [-3.96, -1.93];
const fitCOrangeX = [6.81, 11.99];
const fitCOrangeY = [-3.4, -1.87];
const densCOrangeY = [.02,-.297,-.506,-.75,-.96,-1.17,-1.34,-1.52,-1.8,-2.06,-2.28,-2.63,-2.91,-3.26,-3.5,-3.71,-3.96,-4.2,-4.33];
const densCOrange = [0,.01,.077,.21,.41,.577,.637,.61,.477,.36,.277,.193,.16,.183,.243,.243,.177,.077,.02];
const densCGreyY = [-.12,-.61,-1.24,-1.66,-1.97,-2.06,-2.25,-2.53,-2.84,-3.05,-3.3,-3.5,-3.75,-4.03,-4.33];
const densCGrey = [0,.027,.093,.16,.26,.36,.477,.517,.56,.543,.477,.36,.243,.16,.07];

// ticks and axis ranges
const ticksAX = [8, 12, 16];
const ticksAY = [-4, -2, 0, 2];
const ticksBX = [5, 7.5, 10, 12.5, 15];
const ticksBY = [-3, -2, -1, 0, 1];
const ticksCX = [6, 8, 10, 12];
const ticksCY = [-4, -2, 0, 2];
const rangeAX = [4.475, 16.54], rangeAY = [-4.3, 2.3];
const rangeBX = [4.12, 15.7], rangeBY = [-3.154, 1.68];
const rangeCX = [4.65, 12.45], rangeCY = [-4.33, 2.36];

const greyFill = "rgba(148,179,182,0.5)";
const orangeFill = "rgba(240,149,40,0.45)";
const greyLine = "#94b3b6";
const orangeLine = "#f5a02e";
const xy = (xs, ys) => xs.map((x, i) => ({ x: x, y: ys[i] }));
const pts = (list) => list.map((p) => ({ x: p[0], y: p[1] }));

function addCanvas(left, top, w, h) {
  const c = document.createElement("canvas");
  c.width = w;
  c.height = h;
  c.style.left = left + "px";
  c.style.top = top + "px";
  c.style.width = w + "px";
  c.style.height = h + "px";
  document.body.appendChild(c);
  return c;
}

function addText(html, x, y, css, cls) {
  const d = document.createElement("div");
  d.className = "txt " + (cls || "");
  d.style.left = x + "px";
  d.style.top = y + "px";
  d.style.cssText += css;
  d.innerHTML = html;
  document.body.appendChild(d);
}

// frame round the plot area of B and C
const boxPlugin = {
  id: "box",
  afterDraw(chart) {
    const a = chart.chartArea, ctx = chart.ctx;
    ctx.save();
    ctx.strokeStyle = "#555";
    ctx.lineWidth = 1.3;
    ctx.strokeRect(a.left, a.top, a.right - a.left, a.bottom - a.top);
    ctx.restore();
  },
};

function mainScale(range, ticks, size, fontSize, axisColor, horizontal, pad) {
  return {
    type: "linear",
    min: range[0],
    max: range[1],
    afterBuildTicks: (s) => { s.ticks = ticks.map((v) => ({ value: v })); },
    afterFit: (s) => {
      if (horizontal) s.height = size; else s.width = size;
      s.paddingLeft = s.paddingRight = s.paddingTop = s.paddingBottom = 0;
    },
    grid: { drawOnChartArea: false, tickLength: 4, color: "#444", tickWidth: 1 },
    border: { color: axisColor, width: 1.5 },
    ticks: {
      autoSkip: false,
      maxRotation: 0,
      padding: pad,
      color: "#5a5a5a",
      font: { family: "Liberation Sans", size: fontSize },
      callback: (v) => String(v),
    },
  };
}

function pointSet(data, fill, edge, r, order) {
  return { data: data, backgroundColor: fill, borderColor: edge, borderWidth: 1, pointRadius: r, order: order };
}
function lineSet(data, color, w, order) {
  return { data: data, showLine: true, borderColor: color, borderWidth: w, pointRadius: 0, fill: false, order: order };
}

function scatterChart(canvas, datasets, xScale, yScale, plugins) {
  return new Chart(canvas, {
    type: "scatter",
    data: { datasets: datasets },
    options: {
      responsive: false,
      animation: false,
      layout: { padding: 0 },
      scales: { x: xScale, y: yScale },
      plugins: { legend: { display: false }, tooltip: { enabled: false } },
    },
    plugins: plugins || [],
  });
}

function densityChart(canvas, sets, side, rangeAlong, extent, w) {
  const along = { type: "linear", display: false, min: rangeAlong[0], max: rangeAlong[1] };
  const height = { type: "linear", display: false, min: 0, max: extent };
  return new Chart(canvas, {
    type: "line",
    data: {
      datasets: sets.map((s, i) => ({
        data: s.data,
        borderColor: "#111",
        borderWidth: w,
        backgroundColor: s.fill,
        fill: "origin",
        pointRadius: 0,
        tension: 0.35,
        order: i,
      })),
    },
    options: {
      indexAxis: side ? "y" : "x",
      responsive: false,
      animation: false,
      layout: { padding: 0 },
      scales: side ? { x: height, y: along } : { x: along, y: height },
      plugins: { legend: { display: false }, tooltip: { enabled: false } },
    },
  });
}

// A
scatterChart(
  addCanvas(33, 84, 602, 668),
  [
    lineSet(xy(fitAOrangeX, fitAOrangeY), orangeLine, 7, 0),
    lineSet(xy(fitAGreyX, fitAGreyY), greyLine, 7, 1),
    pointSet(pts(orangeA), "rgba(245,160,45,0.72)", "rgba(50,35,15,0.8)", 6.5, 2),
    pointSet(pts(greyA), "rgba(125,160,165,0.42)", "rgba(25,45,45,0.55)", 6.5, 3),
  ],
  mainScale(rangeAX, ticksAX, 39, 15.5, "#222", true, 4),
  mainScale(rangeAY, ticksAY, 50, 15.5, "#222", false, 4)
);
densityChart(
  addCanvas(628, 92, 120, 621),
  [
    { data: xy(densAOrange, densAOrangeY), fill: orangeFill },
    { data: xy(densAGrey, densAGreyY), fill: greyFill },
  ],
  true, rangeAY, 1.2, 1.8
);

// B
scatterChart(
  addCanvas(780, 75, 363, 350),
  [
    lineSet(xy(cutX, cutY), "#111", 1.8, 0),
    lineSet(xy(lineBX, lineBOrange), orangeLine, 2.2, 1),
    lineSet(xy(lineBX, lineBGrey), greyLine, 2.2, 2),
  ].map((d, i) => (i === 0 ? Object.assign(d, { borderDash: [4, 3] }) : d)),
  mainScale(rangeBX, ticksBX, 37, 17, "#555", true, 0),
  mainScale(rangeBY, ticksBY, 34, 17, "#555", false, 4),
  [boxPlugin]
);
densityChart(
  addCanvas(814, 0, 329, 75),
  [
    { data: xy(densBTopOrangeX, densBTopOrange), fill: orangeFill },
    { data: xy(densBTopGreyX, densBTopGrey), fill: greyFill },
  ],
  false, rangeBX, 0.75, 1.2
);
densityChart(
  addCanvas(1143, 75, 63, 313),
  [
    { data: xy(densBSideOrange, densBSideOrangeY), fill: orangeFill },
    { data: xy(densBSideGrey, densBSideGreyY), fill: greyFill },
  ],
  true, rangeBY, 0.63, 1.2
);

// C
scatterChart(
  addCanvas(780, 418, 367, 382),
  [
    lineSet(xy(fitCOrangeX, fitCOrangeY), orangeLine, 5, 0),
    lineSet(xy(fitCGreyX, fitCGreyY), greyLine, 5, 1),
    pointSet(pts(orangeC), "rgba(245,160,45,0.75)", "rgba(50,35,15,0.75)", 3.8, 2),
    pointSet(pts(greyC), "rgba(130,165,170,0.5)", "rgba(30,50,50,0.45)", 3.8, 3),
  ],
  mainScale(rangeCX, ticksCX, 57, 17, "#555", true, 0),
  mainScale(rangeCY, ticksCY, 32, 17, "#555", false, 4),
  [boxPlugin]
);
densityChart(
  addCanvas(1142, 423, 64, 320),
  [
    { data: xy(densCOrange, densCOrangeY), fill: orangeFill },
    { data: xy(densCGrey, densCGreyY), fill: greyFill },
  ],
  true, rangeCY, 0.64, 1.2
);

// titles, panel letters, legend
const fstTitle = 'Linearised F<span style="font-size:.72em">ST</span> (log)';
addText("Topographic distance (log)", 373, 765, "font-size:25px;");
addText(fstTitle, 26, 409, "font-size:25px;", "ytitle");
addText(fstTitle, 770, 230, "font-size:24px;", "ytitle");
addText(fstTitle, 770, 617, "font-size:24px;", "ytitle");
addText("Topographic distance (log)", 987, 787, "font-size:25px;");
const letterCss = "color:#000;font-size:24px;font-weight:700;-webkit-text-stroke:0.7px #000;";
addText("A.", 48, 62, letterCss);
addText("B.", 716, 61, letterCss);
addText("C.", 741, 456, letterCss);

const dotGrey = document.createElement("div");
dotGrey.className = "dot";
dotGrey.style.cssText = "left:98px;top:110px;background:#94b3b6;";
document.body.appendChild(dotGrey);
const dotOrange = document.createElement("div");
dotOrange.className = "dot";
dotOrange.style.cssText = "left:98px;top:154px;background:#f5a02e;";
document.body.appendChild(dotOrange);
addText("Not aposematic", 220, 121, "color:#5a5a5a;font-size:25.5px;");
addText("Aposematic", 203, 166, "color:#5a5a5a;font-size:25.5px;");
</script>
</body>
</html>
